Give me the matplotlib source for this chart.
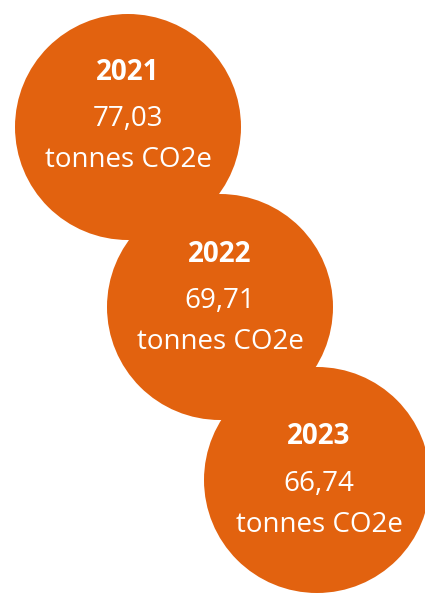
import matplotlib.pyplot as plt
from matplotlib.patches import Circle

# data
years = ["2021", "2022", "2023"]
values = ["77,03", "69,71", "66,74"]
unit = "tonnes CO2e"

# layout (pixel coords, y down)
centers_x = [128, 220, 317]
centers_y = [127, 307, 480]
text_x = [128, 220, 319]
year_y = [72, 254, 437]   # first text line of each circle
radius = 113
orange = "#E2620F"

plt.rcParams['font.family'] = ['Open Sans', 'DejaVu Sans']

fig = plt.figure(figsize=(4.25, 5.94), dpi=100)
ax = fig.add_axes([0, 0, 1, 1])
ax.set_xlim(0, 425)
ax.set_ylim(594, 0)
ax.set_aspect('equal')
ax.axis('off')

for i in range(len(years)):
    ax.add_patch(Circle((centers_x[i], centers_y[i]), radius, color=orange, lw=0))
    tx, ty = text_x[i], year_y[i]
    ax.text(tx, ty, years[i], color='white', fontsize=20, fontweight='bold',
            ha='center', va='center')
    ax.text(tx, ty + 47, values[i], color='white', fontsize=20,
            ha='center', va='center')
    ax.text(tx, ty + 88, unit, color='white', fontsize=20,
            ha='center', va='center')

fig.savefig('out.png', dpi=100, facecolor='white')
